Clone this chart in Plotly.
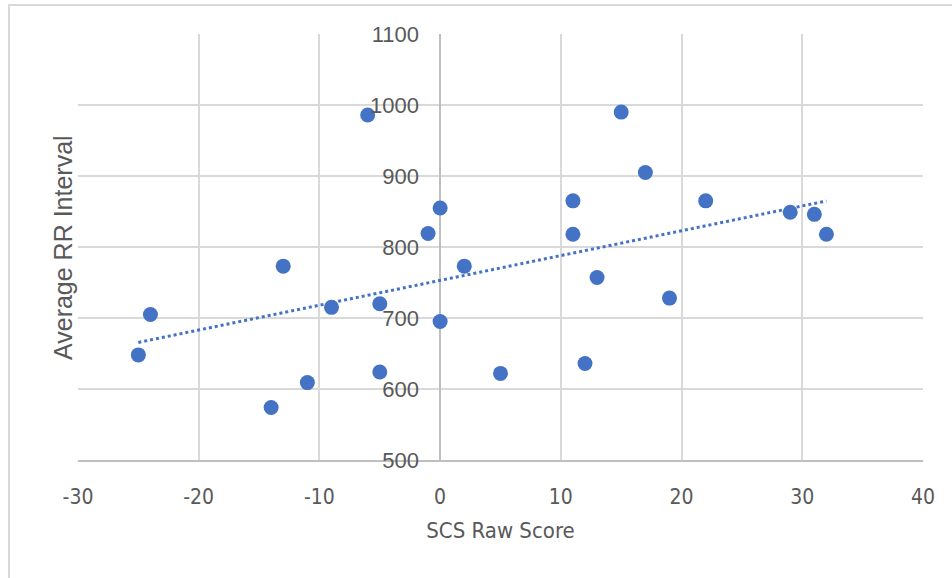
import numpy as np
import plotly.graph_objects as go

scs_raw_score = [-25, -24, -14, -13, -11, -9, -6, -5, -5, -1, 0, 0, 2, 5,
                 11, 11, 12, 13, 15, 17, 19, 22, 29, 31, 32]
avg_rr_interval = [648, 705, 574, 773, 609, 715, 986, 720, 624, 819, 855, 695, 773, 622,
                   865, 818, 636, 757, 990, 905, 728, 865, 849, 846, 818]

x_ticks = [-30, -20, -10, 0, 10, 20, 30, 40]
x_tick_labels = ["-30", "-20", "-10", "0", "10", "20", "30", "40"]
y_ticks = [500, 600, 700, 800, 900, 1000, 1100]

slope, intercept = np.polyfit(scs_raw_score, avg_rr_interval, 1)
trend_x = [min(scs_raw_score), max(scs_raw_score)]
trend_y = [slope * v + intercept for v in trend_x]

blue = "#4472c4"
grid = "#d9d9d9"
label_grey = "#595959"
narrow = "Liberation Sans Narrow, DejaVu Sans Condensed, Liberation Sans"

W, H = 952, 578
L, R, T, B = 78, 29, 34, 118
pw, ph = W - L - R, H - T - B

fig = go.Figure()
fig.add_trace(go.Scatter(
    x=scs_raw_score, y=avg_rr_interval, mode="markers",
    marker=dict(color=blue, size=15, line=dict(width=0)),
    showlegend=False, cliponaxis=False,
))
fig.add_trace(go.Scatter(
    x=trend_x, y=trend_y, mode="lines",
    line=dict(color=blue, width=3, dash="dot"),
    showlegend=False,
))

fig.update_layout(
    width=W, height=H,
    margin=dict(l=L, r=R, t=T, b=B),
    paper_bgcolor="white", plot_bgcolor="white",
    xaxis=dict(
        range=[-30, 40], tickvals=x_ticks, ticktext=x_tick_labels,
        showgrid=True, gridcolor=grid, gridwidth=1.5,
        zeroline=True, zerolinecolor="#bfbfbf", zerolinewidth=1.5,
        showline=True, linecolor="#bfbfbf", linewidth=1.5,
        ticks="", tickfont=dict(family=narrow, size=21, color=label_grey),
        ticklabelstandoff=17,
        title=dict(text="SCS Raw Score", standoff=15,
                   font=dict(family=narrow, size=22, color=label_grey)),
    ),
    yaxis=dict(
        range=[500, 1100], tickvals=y_ticks, showgrid=True, gridcolor=grid, gridwidth=1.5,
        zeroline=False, showline=False, anchor="free", position=362 / pw,
        ticks="", tickfont=dict(family="Liberation Sans", size=22, color=label_grey),
        ticklabelstandoff=21,
    ),
    annotations=[dict(
        text="Average RR Interval", xref="paper", yref="paper",
        x=-15 / pw, y=212 / ph, xanchor="center", yanchor="middle",
        textangle=-90, showarrow=False,
        font=dict(family="Liberation Sans", size=25, color=label_grey),
    )],
    shapes=[dict(
        type="rect", xref="paper", yref="paper",
        x0=-69 / pw, x1=(pw + 60) / pw, y0=-140 / ph, y1=(ph + 29) / ph,
        line=dict(color=grid, width=2), layer="below",
    )],
)

fig.write_html(
    "out.html",
    config={"displayModeBar": False},
    post_script="document.body.style.margin='0';document.body.style.overflow='hidden';",
)
